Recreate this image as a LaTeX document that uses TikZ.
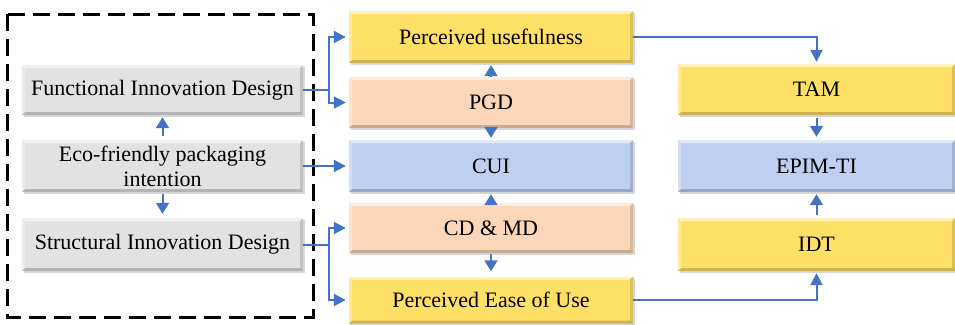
\documentclass[tikz,border=0pt]{standalone}
\usepackage{fontspec}
\setmainfont{Liberation Serif}
\usetikzlibrary{arrows.meta,shadows}
\definecolor{ygold}{HTML}{FFE066}
\definecolor{peach}{HTML}{FBD6B8}
\definecolor{lblue}{HTML}{BED0F0}
\definecolor{lgrey}{HTML}{E2E2E2}
\definecolor{ablue}{HTML}{4472C4}
\tikzset{
  bevel/.style={path picture={
    \fill[white,opacity=0.55] (path picture bounding box.north west) -- (path picture bounding box.north east) -- ([xshift=-3pt,yshift=-3pt]path picture bounding box.north east) -- ([xshift=3pt,yshift=-3pt]path picture bounding box.north west) -- cycle;
    \fill[black,opacity=0.2] (path picture bounding box.south west) -- (path picture bounding box.south east) -- ([xshift=-3pt,yshift=3pt]path picture bounding box.south east) -- ([xshift=3pt,yshift=3pt]path picture bounding box.south west) -- cycle;
    \fill[black,opacity=0.14] (path picture bounding box.north east) -- (path picture bounding box.south east) -- ([xshift=-3pt,yshift=3pt]path picture bounding box.south east) -- ([xshift=-3pt,yshift=-3pt]path picture bounding box.north east) -- cycle;
    \fill[white,opacity=0.3] (path picture bounding box.north west) -- (path picture bounding box.south west) -- ([xshift=3pt,yshift=3pt]path picture bounding box.south west) -- ([xshift=3pt,yshift=-3pt]path picture bounding box.north west) -- cycle;
  }},
  box/.style={bevel, inner sep=0pt, align=center, text=black,
    font=\fontsize{22}{25}\selectfont,
    drop shadow={shadow xshift=1.5pt,shadow yshift=-1.5pt,opacity=0.3}},
  greybox/.style={box, fill=lgrey, minimum width=281pt},
  midbox/.style={box, minimum width=284pt},
  rightbox/.style={box, minimum width=277pt},
  arr/.style={draw=ablue, line width=2pt, -{Triangle[length=12pt,width=12pt]}},
  sarr/.style={draw=ablue, line width=2pt, -{Triangle[length=11pt,width=13pt]}},
  frame/.style={draw=black, line width=3pt, dash pattern=on 17pt off 8pt}
}
\begin{document}
\begin{tikzpicture}[x=1pt,y=-1pt]
\useasboundingbox (0,0) rectangle (955,324);
\draw[frame] (7,14) rectangle (313,317);

\node[greybox, minimum height=50pt] (func) at (162.5,90) {Functional Innovation Design};
\node[greybox, minimum height=52pt] (eco) at (162.5,166) {Eco-friendly packaging\\intention};
\node[greybox, minimum height=53pt] (struc) at (162.5,244.5) {Structural Innovation Design};

\node[midbox, fill=ygold, minimum height=52pt] (pu) at (491,37) {Perceived usefulness};
\node[midbox, fill=peach, minimum height=51pt] (pgd) at (491,102.5) {PGD};
\node[midbox, fill=lblue, minimum height=52pt] (cui) at (491,166) {CUI};
\node[midbox, fill=peach, minimum height=50pt] (cdmd) at (491,228) {CD \& MD};
\node[midbox, fill=ygold, minimum height=47pt] (peu) at (491,300) {Perceived Ease of Use};

\node[rightbox, fill=ygold, minimum height=51pt] (tam) at (816.5,89.5) {TAM};
\node[rightbox, fill=lblue, minimum height=52pt] (epim) at (816.5,166) {EPIM-TI};
\node[rightbox, fill=ygold, minimum height=53pt] (idt) at (816.5,244.5) {IDT};

% left column inner arrows
\draw[sarr, shorten <=4pt, shorten >=2pt] (eco.north) -- (func.south);
\draw[sarr, shorten <=2pt, shorten >=4pt] (eco.south) -- (struc.north);

% branches from left column
\draw[arr, shorten >=3pt] (func.east) -- ++(26,0) |- (pu.west);
\draw[arr, shorten >=3pt] (func.east) -- ++(26,0) |- (pgd.west);
\draw[arr, shorten >=3pt] (eco.east) -- (cui.west);
\draw[arr, shorten >=3pt] (struc.east) -- ++(26,0) |- (cdmd.west);
\draw[arr, shorten >=3pt] (struc.east) -- ++(26,0) |- (peu.west);

% middle column inner arrows
\draw[sarr, shorten >=2pt] (pgd.north) -- (pu.south);
\draw[sarr, shorten >=2pt] (pgd.south) -- (cui.north);
\draw[sarr, shorten >=2pt] (cdmd.north) -- (cui.south);
\draw[sarr, shorten <=1pt, shorten >=5pt] (cdmd.south) -- (peu.north);

% to right column
\draw[arr, shorten >=2pt] (pu.east) -| (tam.north);
\draw[arr, shorten >=2pt] (peu.east) -| (idt.south);
\draw[sarr, shorten <=3pt, shorten >=3pt] (tam.south) -- (epim.north);
\draw[sarr, shorten <=3pt, shorten >=2pt] (idt.north) -- (epim.south);
\end{tikzpicture}
\end{document}
